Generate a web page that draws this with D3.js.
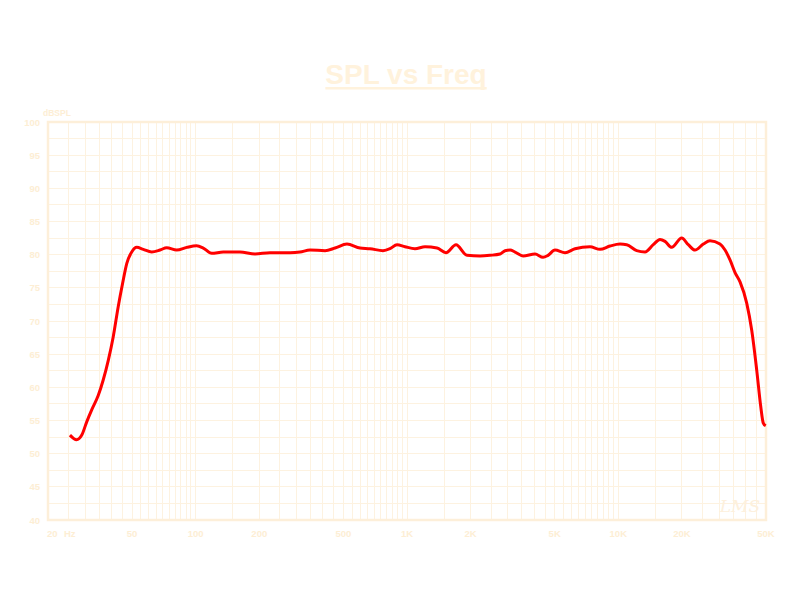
<!DOCTYPE html>
<html><head><meta charset="utf-8">
<script src="https://cdn.jsdelivr.net/npm/d3@7"></script>
<style>body{margin:0;background:#fff}svg{display:block}</style>
</head><body><svg id="c" width="800" height="600"></svg>
<script>
const freqs = [25.4,27.3,28.9,30.5,32.2,34.6,36.5,38.6,40.7,43.0,45.1,47.2,49.8,52.6,56.5,61.9,67.8,72.9,81.3,90.7,101,108.6,119,135,162,190.9,224.7,279.5,311.7,347.6,409.3,456.5,520,599.5,668.5,769.9,831,896.8,978,1091,1217,1387,1529,1706,1923,2216,2471,2756,2911,3074,3246,3541,4036,4403,4649,5017,5595,6240,7346,8194,9136,10188,10960,12220,13380,14640,15750,16640,17890,19950,21440,23060,25260,27160,30280,32000,33780,35680,37680,40520,42800,45190,47220,48560,49860];
const spl = [52.8,52.1,52.8,54.8,56.6,58.8,61.1,64.1,67.6,72.2,75.7,78.7,80.4,81.1,80.8,80.4,80.7,81.05,80.7,81.1,81.35,81.0,80.2,80.4,80.4,80.1,80.3,80.3,80.4,80.7,80.6,81.0,81.6,81.0,80.9,80.6,80.9,81.5,81.2,80.9,81.2,81.0,80.3,81.5,79.9,79.8,79.9,80.1,80.6,80.7,80.4,79.8,80.1,79.6,79.9,80.7,80.3,80.9,81.2,80.8,81.3,81.6,81.5,80.6,80.4,81.5,82.3,82.0,81.1,82.5,81.5,80.7,81.6,82.1,81.6,80.7,79.2,77.3,75.9,72.7,68.6,62.6,57.1,54.6,54.2];
const xTickVals = [50,100,200,500,1000,2000,5000,10000,20000,50000];
const xTickLabels = ["50","100","200","500","1K","2K","5K","10K","20K","50K"];
const yTickVals = [40,45,50,55,60,65,70,75,80,85,90,95,100];

const svg = d3.select("#c");
const L=48,R=766,T=122,B=520;
const x = d3.scaleLog().domain([20,50000]).range([L,R]);
const y = d3.scaleLinear().domain([40,100]).range([B,T]);
const gridCol="#fdf2e0", frameCol="#fdefd9", textCol="#fdeed4";

// vertical grid
const vg=[];
[[20,100,5],[100,1000,50],[1000,10000,500],[10000,50000,5000]].forEach(([a,b,s])=>{for(let f=a;f<=b+1e-6;f+=s) vg.push(f);});
svg.append("g").selectAll("line").data(vg).join("line")
 .attr("x1",d=>x(d)).attr("x2",d=>x(d)).attr("y1",T).attr("y2",B)
 .attr("stroke",gridCol).attr("stroke-width",1).attr("shape-rendering","crispEdges");
const hg=d3.range(40,100.1,2.5);
svg.append("g").selectAll("line").data(hg).join("line")
 .attr("x1",L).attr("x2",R).attr("y1",d=>y(d)).attr("y2",d=>y(d))
 .attr("stroke",gridCol).attr("stroke-width",1).attr("shape-rendering","crispEdges");
svg.append("rect").attr("x",L).attr("y",T).attr("width",R-L).attr("height",B-T)
 .attr("fill","none").attr("stroke",frameCol).attr("stroke-width",2.5);

// y labels
svg.append("g").selectAll("text").data(yTickVals).join("text")
 .attr("x",40).attr("y",d=>y(d)+3.5).attr("text-anchor","end")
 .attr("font-family","Liberation Sans, Arial, sans-serif").attr("font-weight","bold").attr("font-size",9.5)
 .attr("fill",textCol).text(d=>d);
svg.append("text").attr("x",43).attr("y",116).attr("font-family","Liberation Sans, Arial, sans-serif")
 .attr("font-weight","bold").attr("font-size",8.5).attr("fill",textCol).text("dBSPL");
// x labels
svg.append("g").selectAll("text").data(xTickVals).join("text")
 .attr("x",d=>x(d)).attr("y",537).attr("text-anchor","middle")
 .attr("font-family","Liberation Sans, Arial, sans-serif").attr("font-weight","bold").attr("font-size",9.5)
 .attr("fill",textCol).text((d,i)=>xTickLabels[i]);
svg.append("text").attr("x",x(20)-1).attr("y",537).attr("font-family","Liberation Sans, Arial, sans-serif")
 .attr("font-weight","bold").attr("font-size",9.5).attr("fill",textCol).text("20");
svg.append("text").attr("x",x(20)+16).attr("y",537).attr("font-family","Liberation Sans, Arial, sans-serif")
 .attr("font-weight","bold").attr("font-size",9.5).attr("fill",textCol).text("Hz");

// title
const title = svg.append("text").attr("x",406).attr("y",84).attr("text-anchor","middle")
 .attr("font-family","Liberation Sans, Arial, sans-serif").attr("font-weight","bold").attr("font-size",28)
 .attr("fill","#fff2dc").text("SPL vs Freq");
const bb = title.node().getBBox();
svg.append("rect").attr("x",bb.x).attr("y",87).attr("width",bb.width).attr("height",2.5).attr("fill","#fff2dc");

// watermark
svg.append("text").attr("x",740).attr("y",512).attr("text-anchor","middle")
 .attr("font-family","DejaVu Serif, serif").attr("font-style","italic").attr("font-size",17)
 .attr("fill","#fdf0dc").text("LMS");

// curve
const pts = freqs.map((f,i)=>[f,spl[i]]);
svg.append("path").datum(pts)
 .attr("d",d3.line().x(d=>x(d[0])).y(d=>y(d[1])).curve(d3.curveMonotoneX))
 .attr("fill","none").attr("stroke","#ff0000").attr("stroke-width",3).attr("stroke-linejoin","round");
</script></body></html>
